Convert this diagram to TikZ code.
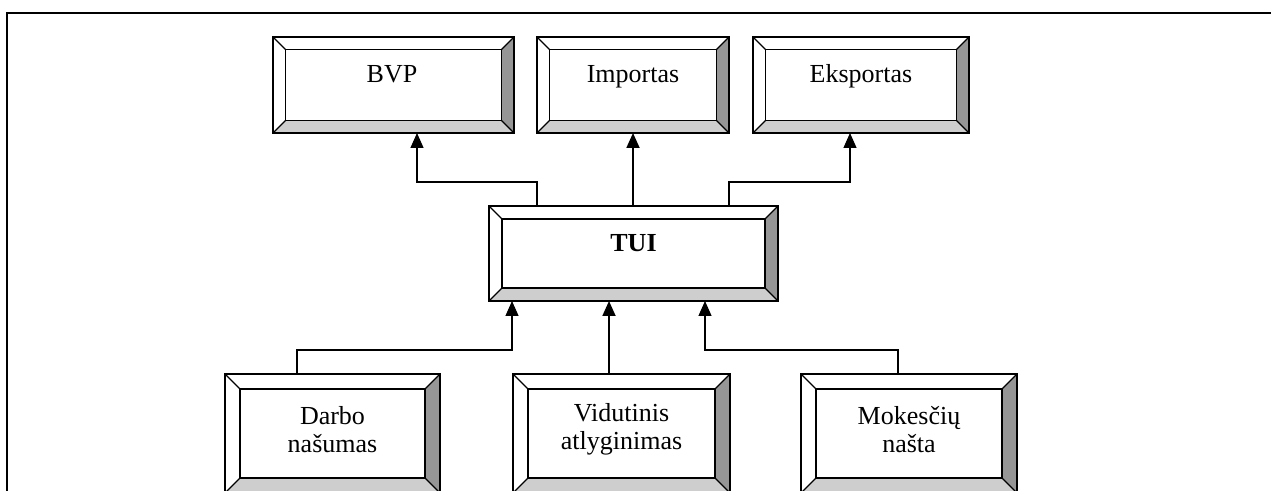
\documentclass[tikz,border=0pt]{standalone}
\usepackage{fontspec}
\setmainfont{Liberation Serif}
\usetikzlibrary{calc,arrows.meta}

\definecolor{bevdark}{RGB}{150,150,150}
\definecolor{bevlight}{RGB}{206,206,206}

\tikzset{
  boxshape/.style={rectangle, draw=none, inner sep=0pt, outer sep=0pt},
  boxline/.style={line width=1.3pt, line join=miter},
  lbl/.style={font=\fontsize{26}{28}\selectfont, inner sep=0pt, align=center},
  conn/.style={line width=1.3pt, -{Triangle[length=15pt,width=13pt]}},
  frameline/.style={line width=1.7pt}
}

% beveled frame around a named node: #1 node, #2 bevel width
\newcommand{\bevelframe}[2]{%
  \fill[white] (#1.south west) rectangle (#1.north east);
  \fill[bevdark] (#1.north east) -- (#1.south east)
     -- ([shift={(-#2,#2)}]#1.south east) -- ([shift={(-#2,-#2)}]#1.north east) -- cycle;
  \fill[bevlight] (#1.south west) -- (#1.south east)
     -- ([shift={(-#2,#2)}]#1.south east) -- ([shift={(#2,#2)}]#1.south west) -- cycle;
  \draw[boxline] (#1.south west) rectangle (#1.north east);
  \draw[boxline] ([shift={(#2,#2)}]#1.south west) rectangle ([shift={(-#2,-#2)}]#1.north east);
  \draw[boxline] (#1.north west) -- ++(#2,-#2);
  \draw[boxline] (#1.north east) -- ++(-#2,-#2);
  \draw[boxline] (#1.south west) -- ++(#2,#2);
  \draw[boxline] (#1.south east) -- ++(-#2,#2);
}

\begin{document}
\begin{tikzpicture}[x=1pt,y=1pt]
\clip (0,0) rectangle (1271,490);
\fill[white] (0,0) rectangle (1271,490);

% outer frame (top and left edges)
\draw[frameline] (1275,477) -- (7,477) -- (7,-5);

% top row
\node[boxshape, minimum width=241, minimum height=96] (bvp) at (393.5,405) {};
\node[boxshape, minimum width=192, minimum height=96] (imp) at (633,405) {};
\node[boxshape, minimum width=216, minimum height=96] (eks) at (861,405) {};
% centre
\node[boxshape, minimum width=289, minimum height=95] (tui) at (633.5,236.5) {};
% bottom row
\node[boxshape, minimum width=215, minimum height=119] (dar) at (332.5,56.5) {};
\node[boxshape, minimum width=217, minimum height=119] (vid) at (621.5,56.5) {};
\node[boxshape, minimum width=216, minimum height=119] (mok) at (909,56.5) {};

\bevelframe{bvp}{12.5}
\bevelframe{imp}{12.5}
\bevelframe{eks}{12.5}
\bevelframe{tui}{13}
\bevelframe{dar}{15}
\bevelframe{vid}{15}
\bevelframe{mok}{15}

% labels
\node[lbl, anchor=base] (bvpt) at ([shift={(-1.5,2)}]bvp.center) {BVP};
\node[lbl, anchor=base] (impt) at ([yshift=2]imp.center) {Importas};
\node[lbl, anchor=base] (ekst) at ([yshift=2]eks.center) {Eksportas};
\node[lbl, anchor=base, font=\fontsize{26}{28}\selectfont\bfseries] (tuit) at ([yshift=1.5]tui.center) {TUI};
\node[lbl] (dart) at ([yshift=4]dar.center) {Darbo\\našumas};
\node[lbl] (vidt) at ([yshift=4]vid.center) {Vidutinis\\atlyginimas};
\node[lbl] (mokt) at ([yshift=4]mok.center) {Mokesčių\\našta};

% connectors from TUI to the outputs
\draw[conn] ([xshift=-96.5]tui.north) -- ++(0,24) -| ([xshift=23.5]bvp.south);
\draw[conn, line width=1.8pt] ([xshift=-0.5]tui.north) -- ([xshift=-0.5]tui.north |- imp.south);
\draw[conn] ([xshift=95.5]tui.north) -- ++(0,24) -| ([xshift=-11]eks.south);

% connectors from the inputs to TUI
\draw[conn] ([xshift=-35.5]dar.north) -- ++(0,24) -| ([xshift=-121.5]tui.south);
\draw[conn, line width=1.8pt] ([xshift=-12.5]vid.north) -- ([xshift=-24.5]tui.south);
\draw[conn] ([xshift=-11]mok.north) -- ++(0,24) -| ([xshift=71.5]tui.south);
\end{tikzpicture}
\end{document}
